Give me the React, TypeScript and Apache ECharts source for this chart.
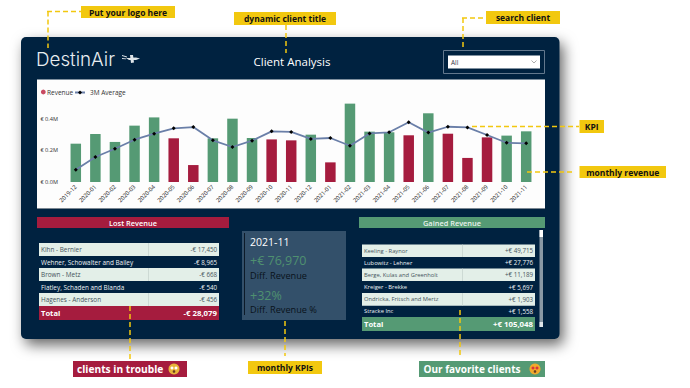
import React, { useEffect, useRef } from "react";
import * as echarts from "echarts";

const months = ["2019-12","2020-01","2020-02","2020-03","2020-04","2020-05","2020-06","2020-07","2020-08","2020-09","2020-10","2020-11","2020-12","2021-01","2021-02","2021-03","2021-04","2021-05","2021-06","2021-07","2021-08","2021-09","2021-10","2021-11"];
const revenue = [0.242,0.303,0.253,0.356,0.408,0.276,0.107,0.276,0.4,0.278,0.269,0.263,0.299,0.124,0.495,0.318,0.314,0.295,0.434,0.305,0.152,0.282,0.293,0.32];
const isLoss = [0,0,0,0,0,1,1,0,0,0,1,1,0,1,0,0,0,1,0,1,1,1,0,0];
const average = [0.078,0.158,0.21,0.267,0.305,0.339,0.347,0.263,0.221,0.261,0.32,0.316,0.272,0.278,0.229,0.307,0.314,0.377,0.312,0.349,0.345,0.297,0.248,0.244];
const lostRows = [["Kihn - Bernier","-€ 17,450"],["Wehner, Schowalter and Bailey","-€ 8,965"],["Brown - Metz","-€ 668"],["Flatley, Schaden and Blanda","-€ 540"],["Hagenes - Anderson","-€ 456"]];
const lostTotal = "-€ 28,079";
const gainedRows = [["Keeling - Raynor","+€ 49,715"],["Lubowitz - Lehner","+€ 27,776"],["Berge, Kulas and Greenholt","+€ 11,189"],["Kreiger - Brekke","+€ 5,697"],["Ondricka, Fritsch and Mertz","+€ 1,903"],["Stracke Inc","+€ 1,558"]];
const gainedTotal = "+€ 105,048";

const NAVY = "#03233f", GREEN = "#559a74", RED = "#a51c3e", YELLOW = "#f2c80f", FONT = "'Open Sans'";
echarts.graphic.registerShape("plane", echarts.graphic.extendPath("M0 0L5 1.5L5 2.5L0 1ZM0 3L4 3.4L4 4.2L0 4ZM4 3L14 2.5L18 3.5L14 5L7 5ZM8 0L11 0L12 7.5L9 8Z", {}));

const rect = (x: number, y: number, w: number, h: number, fill: string, z = -5, r = 0, extra: any = {}) => ({ type: "rect", silent: true, z, shape: { x, y, width: w, height: h, r }, style: { fill, ...extra } });
const text = (x: number, y: number, t: string, size: number, fill: string, align = "left", weight: any = 400, family = FONT, z = -2) => ({ type: "text", silent: true, z, x, y, style: { text: t, fontSize: size, fill, align, verticalAlign: "middle", fontWeight: weight, fontFamily: family } });
const dash = (x1: number, y1: number, x2: number, y2: number) => ({ type: "line", silent: true, z: 20, shape: { x1, y1, x2, y2 }, style: { stroke: YELLOW, lineWidth: 1.5, lineDash: [5, 3] } });
const tag = (x: number, y: number, w: number, h: number, t: string, fill = YELLOW, color = "#111", size = 8.5, tx?: number) => [
  rect(x, y, w, h, fill, 18),
  text(tx ?? x + w / 2, y + h / 2, t, size, color, tx ? "left" : "center", 700, FONT, 19),
];
const table = (x: number, w: number, div: number, tops: number[], rows: string[][], total: string, color: string, size: number) => {
  const out: any[] = [];
  rows.forEach((row, i) => {
    const y = tops[i], h = tops[i + 1] - y, light = i % 2 === 0;
    if (light) out.push(rect(x, y, w, h, "#e3efe8", -4), rect(div, y, 0.7, h, "#c3d2cc", -3));
    const c = light ? "#46545c" : "#eef3f5";
    out.push(text(x + 2, y + h / 2, row[0], size, c), text(x + w - 2, y + h / 2, row[1], 6.2, c, "right"));
  });
  const y = tops[rows.length], h = tops[rows.length + 1] - y;
  out.push(rect(x, y, w, h, color, -4), text(x + 2, y + h / 2, "Total", 7.6, "#fff", "left", 700), text(x + w - 2, y + h / 2, total, 7.8, "#fff", "right", 700));
  return out;
};
const face = (cx: number, cy: number, love: boolean) => [
  { type: "circle", silent: true, z: 20, shape: { cx, cy, r: 5.5 }, style: { fill: love ? "#f0a92c" : "#e8b53a" } },
  { type: "circle", silent: true, z: 21, shape: { cx: cx - 2, cy: cy - 1, r: 1.5 }, style: { fill: love ? "#d8333c" : "#fff" } },
  { type: "circle", silent: true, z: 21, shape: { cx: cx + 2, cy: cy - 1, r: 1.5 }, style: { fill: love ? "#d8333c" : "#fff" } },
  { type: "circle", silent: true, z: 21, shape: { cx, cy: cy + 2.5, r: 1.3 }, style: { fill: "#6b3a1e" } },
];

export default function App() {
  const ref = useRef<HTMLDivElement>(null);
  useEffect(() => {
    const chart = echarts.init(ref.current!, null, { renderer: "svg" });
    const legendText = { fontSize: 6.5, color: "#333", fontFamily: FONT };
    chart.setOption({
      animation: false,
      backgroundColor: "#fff",
      textStyle: { fontFamily: FONT },
      legend: [
        { left: 41, top: 89, itemWidth: 1, itemHeight: 5, padding: 0, textStyle: legendText,
          data: [{ name: "Revenue", icon: "circle", itemStyle: { color: "transparent" } }] },
        { left: 74, top: 89, itemWidth: 10, itemHeight: 5, padding: 0, textStyle: legendText,
          data: [{ name: "3M Average" }] },
      ],
      grid: { left: 66, right: 154, top: 87, bottom: 206 },
      xAxis: {
        type: "category", data: months,
        axisLine: { show: false }, axisTick: { show: false },
        axisLabel: { interval: 0, rotate: 45, fontSize: 5.8, color: "#222", margin: 4, fontFamily: FONT },
      },
      yAxis: {
        type: "value", min: 0, max: 0.6, interval: 0.2,
        splitLine: { show: false }, axisLine: { show: false }, axisTick: { show: false },
        axisLabel: { showMaxLabel: false, fontSize: 5.6, color: "#333", margin: 8, fontFamily: FONT, formatter: (v: number) => `€ ${v.toFixed(1)}M` },
      },
      series: [
        { name: "Revenue", type: "bar", barWidth: 10.5, itemStyle: { color: RED },
          data: revenue.map((v, i) => ({ value: v, itemStyle: { color: isLoss[i] ? RED : GREEN } })) },
        { name: "3M Average", type: "line", data: average, symbol: "diamond", symbolSize: 4,
          lineStyle: { color: "#6a7fa8", width: 1.8 }, itemStyle: { color: "#000" } },
      ],
      graphic: { elements: [
        rect(21, 37, 538.5, 302, NAVY, -10, 5, { shadowBlur: 14, shadowOffsetX: 4, shadowOffsetY: 6, shadowColor: "rgba(0,0,0,0.6)" }),
        rect(37, 79.5, 508, 129, "#fdfdfd", -8),
        rect(37, 208, 508, 1, "#7b8792", -7),
        { type: "circle", silent: true, z: 5, shape: { cx: 43.3, cy: 92, r: 2.4 }, style: { fill: "#c84a62" } },
        text(36, 59, "DestinAir", 18.8, "#e8edf0", "left", 300, "Inter"),
        { type: "plane", silent: true, z: -2, x: 122, y: 55, style: { fill: "#dfe5e9" } },
        text(292, 61.5, "Client Analysis", 11.5, "#fff", "center"),
        { ...rect(443.5, 50.5, 101, 23, "none", -4), style: { fill: "none", stroke: "#63788d", lineWidth: 1 } },
        rect(448, 55.5, 92, 13, "#fff", -3),
        text(451, 62.3, "All", 6.4, "#334"),
        { type: "polyline", silent: true, z: -2, shape: { points: [[531.5, 60.5], [534, 63], [536.5, 60.5]] }, style: { stroke: "#888", fill: "none", lineWidth: 0.7 } },

        rect(37, 217, 192, 11, RED, -4),
        text(133, 222.7, "Lost Revenue", 7.4, "#fff", "center", 600),
        ...table(39, 180, 148, [243, 256, 268, 281, 293, 306, 320], lostRows, lostTotal, RED, 6.4),

        rect(242, 231, 104, 89, "#33506a", -4),
        rect(244, 233, 1, 82, "#0c1a28", -3),
        text(250, 242, "2021-11", 10.5, "#fff", "left", 500),
        text(250, 260.5, "+€ 76,970", 12.5, "#4f9070"),
        text(250, 275.5, "Diff. Revenue", 9.2, "#0a131b"),
        text(250, 295, "+32%", 12.5, "#4f9070"),
        text(250, 309.5, "Diff. Revenue %", 9.2, "#0a131b"),

        rect(359, 217, 186, 11, GREEN, -4),
        text(452, 222.7, "Gained Revenue", 7.4, "#e8f1ec", "center", 600),
        ...table(362, 173, 462, [244.5, 257, 268.5, 281, 293, 305.7, 317, 331], gainedRows, gainedTotal, GREEN, 5.8),
        rect(539.5, 230, 3.5, 97, "#8a99a5", -3),
        rect(539.5, 230, 3.5, 7, "#fff", -2),
        rect(539.5, 322, 3.5, 5, "#dfe5e9", -2),

        dash(47, 11.5, 81, 11.5), dash(48, 11.5, 48, 48),
        dash(286, 25, 286, 53),
        dash(462, 18, 486, 18), dash(463, 18, 463, 49),
        dash(472, 126.5, 579, 126.5),
        dash(527, 172, 575, 172),
        dash(130, 306, 130, 359),
        dash(285, 321, 285, 356),
        dash(460, 310, 460, 355),
        ...tag(81, 6, 94, 12, "Put your logo here"),
        ...tag(234, 12, 102, 13, "dynamic client title"),
        ...tag(486, 11, 74, 13, "search client"),
        ...tag(579.5, 120, 24.5, 13, "KPI"),
        ...tag(579.5, 166, 86.5, 12, "monthly revenue"),
        ...tag(248, 361, 74, 13, "monthly KPIs"),
        ...tag(73, 361, 114, 16, "clients in trouble", RED, "#fff", 10.2, 77),
        ...face(174, 369, false),
        ...tag(419, 361, 126, 16, "Our favorite clients", GREEN, "#fff", 10, 423.5),
        ...face(535, 369, true),
      ] },
    });
    return () => chart.dispose();
  }, []);
  return <div ref={ref} style={{ position: "fixed", left: 0, top: 0, width: 690, height: 388 }} />;
}
